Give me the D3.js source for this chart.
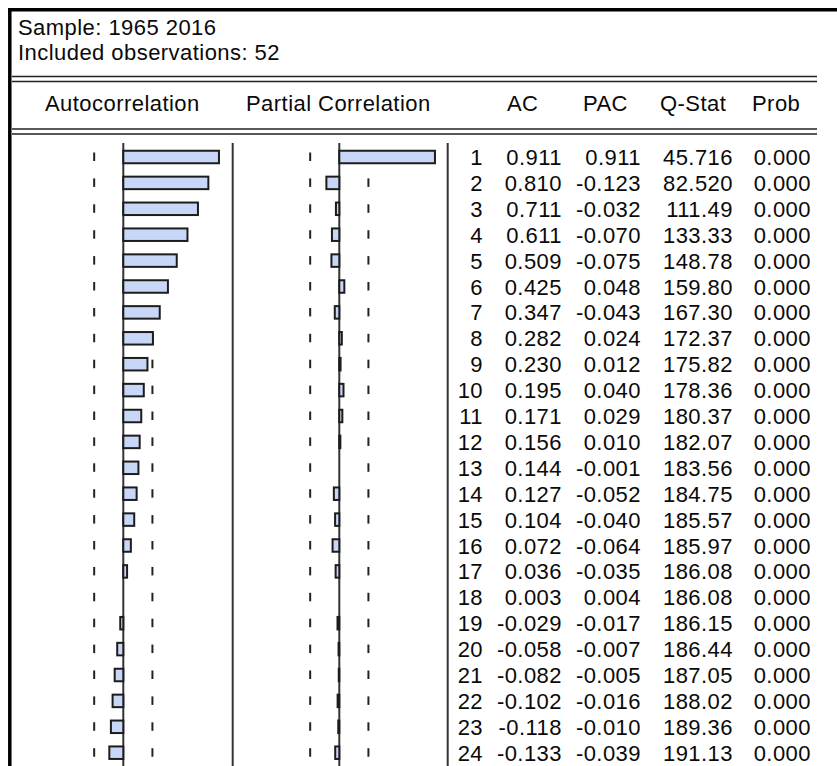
<!DOCTYPE html>
<html>
<head>
<meta charset="utf-8">
<script src="https://cdn.jsdelivr.net/npm/d3@7"></script>
<style>
  html, body { margin: 0; padding: 0; background: #fff; }
  svg text { font-family: "Liberation Sans", Arial, sans-serif; fill: #0a0a0a; letter-spacing: 0.45px; }
</style>
</head>
<body>
<div id="chart"></div>
<script>
var lags = [1, 2, 3, 4, 5, 6, 7, 8, 9, 10, 11, 12, 13, 14, 15, 16, 17, 18, 19, 20, 21, 22, 23, 24];
var acValues = [0.911, 0.810, 0.711, 0.611, 0.509, 0.425, 0.347, 0.282, 0.230, 0.195, 0.171, 0.156,
  0.144, 0.127, 0.104, 0.072, 0.036, 0.003, -0.029, -0.058, -0.082, -0.102, -0.118, -0.133];
var pacValues = [0.911, -0.123, -0.032, -0.070, -0.075, 0.048, -0.043, 0.024, 0.012, 0.040, 0.029, 0.010,
  -0.001, -0.052, -0.040, -0.064, -0.035, 0.004, -0.017, -0.007, -0.005, -0.016, -0.010, -0.039];
var qStat = [45.716, 82.520, 111.49, 133.33, 148.78, 159.80, 167.30, 172.37, 175.82, 178.36, 180.37, 182.07,
  183.56, 184.75, 185.57, 185.97, 186.08, 186.08, 186.15, 186.44, 187.05, 188.02, 189.36, 191.13];
var probValues = [0, 0, 0, 0, 0, 0, 0, 0, 0, 0, 0, 0, 0, 0, 0, 0, 0, 0, 0, 0, 0, 0, 0, 0];
var headerLines = ['Sample: 1965 2016', 'Included observations: 52'];
var nObs = 52;

var
  w = 837,
  h = 766,
  band = 2 / Math.sqrt(nObs),
  fontSize = 22,
  barH = 12.5,
  y = d3.scaleLinear().domain([1, 24]).range([157, 752.7]),
  xAc = d3.scaleLinear().domain([-1, 1]).range([18.3, 228.3]),
  xPac = d3.scaleLinear().domain([-1, 1]).range([234.3, 444.3]);

var rows = lags.map(function(l, i) {
  return {lag: l, ac: acValues[i], pac: pacValues[i], q: qStat[i], prob: probValues[i]};
});

var chart = d3.select("#chart").
append("svg").
attr("width", w).
attr("height", h).
attr("style", "background-color: white; display: block;");

// outer frame
chart.append("line").attr("x1", 8).attr("x2", w).attr("y1", 9.8).attr("y2", 9.8)
  .attr("stroke", "#000").attr("stroke-width", 3.5);
chart.append("line").attr("x1", 9.8).attr("x2", 9.8).attr("y1", 8).attr("y2", h)
  .attr("stroke", "#000").attr("stroke-width", 3.5);

// sample info
chart.selectAll(".info").data(headerLines).enter().append("text")
  .attr("class", "info")
  .attr("x", 18).attr("y", function(d, i) { return 35 + i * 25; })
  .attr("font-size", fontSize)
  .text(function(d) { return d; });

// double rules
[76.5, 81.5, 129, 134].forEach(function(yy) {
  chart.append("line").attr("x1", 12).attr("x2", 817).attr("y1", yy).attr("y2", yy)
    .attr("stroke", "#222").attr("stroke-width", 1.6);
});

// column headers
var heads = [
  {t: 'Autocorrelation', x: 45},
  {t: 'Partial Correlation', x: 246},
  {t: 'AC', x: 507},
  {t: 'PAC', x: 583},
  {t: 'Q-Stat', x: 660},
  {t: 'Prob', x: 752}
];
chart.selectAll(".head").data(heads).enter().append("text")
  .attr("class", "head")
  .attr("x", function(d) { return d.x; }).attr("y", 111)
  .attr("font-size", fontSize)
  .text(function(d) { return d.t; });

// vertical lines: zero lines and panel borders
[xAc(0), 232.7, xPac(0), 447.7].forEach(function(xx) {
  chart.append("line").attr("x1", xx).attr("x2", xx).attr("y1", 143).attr("y2", h)
    .attr("stroke", "#333").attr("stroke-width", 2);
});

function panel(x, key) {
  var g = chart.append("g");
  // confidence band dashes
  [-band, band].forEach(function(b) {
    g.selectAll(null).data(rows).enter().append("line")
      .attr("x1", x(b)).attr("x2", x(b))
      .attr("y1", function(d) { return y(d.lag) - 4.5; })
      .attr("y2", function(d) { return y(d.lag) + 4; })
      .attr("stroke", "#222").attr("stroke-width", 2);
  });
  g.selectAll(".bar").data(rows.filter(function(d) { return Math.abs(d[key]) >= 0.005; }))
    .enter().append("rect")
    .attr("class", "bar")
    .attr("x", function(d) { return Math.min(x(0), x(d[key])); })
    .attr("y", function(d) { return y(d.lag) - barH / 2; })
    .attr("width", function(d) { return Math.abs(x(d[key]) - x(0)); })
    .attr("height", barH)
    .attr("fill", "#c8d7f8")
    .attr("stroke", "#1c1c1c")
    .attr("stroke-width", 2);
}
panel(xAc, 'ac');
panel(xPac, 'pac');

// table values (ascii hyphen for negatives, as in the source)
var loc = d3.formatLocale({decimal: ".", thousands: ",", grouping: [3], currency: ["", ""], minus: "-"});
var f3 = loc.format(".3f");
var cols = [
  {x: 483, v: function(d) { return d.lag; }},
  {x: 562, v: function(d) { return f3(d.ac); }},
  {x: 641, v: function(d) { return f3(d.pac); }},
  {x: 733, v: function(d) { return d.q >= 100 ? d.q.toFixed(2) : d.q.toFixed(3); }},
  {x: 811, v: function(d) { return f3(d.prob); }}
];
cols.forEach(function(c) {
  chart.append("g").selectAll("text").data(rows).enter().append("text")
    .attr("x", c.x)
    .attr("y", function(d) { return y(d.lag) + 8; })
    .attr("text-anchor", "end")
    .attr("font-size", fontSize)
    .text(c.v);
});
</script>
</body>
</html>
